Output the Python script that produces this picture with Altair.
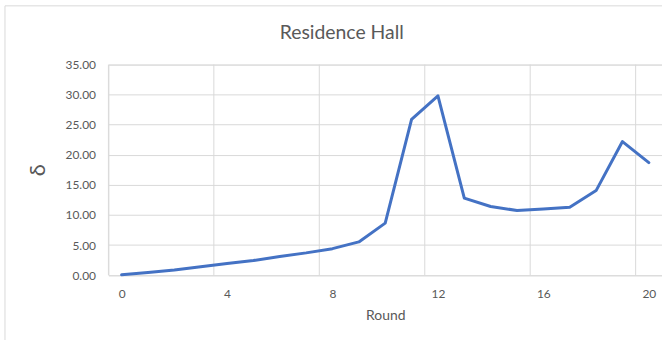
import altair as alt
import pandas as pd

# Round number and the δ value measured at each round
rounds = list(range(21))
delta = [0.05, 0.45, 0.85, 1.40, 1.93, 2.43, 3.10, 3.70, 4.40, 5.52, 8.65,
         25.9, 29.8, 12.8, 11.4, 10.75, 11.0, 11.3, 14.05, 22.2, 18.7]

# Labelled rounds on the x axis and the y axis tick values
x_ticks = [0, 4, 8, 12, 16, 20]
y_ticks = [0, 5, 10, 15, 20, 25, 30, 35]

df = pd.DataFrame({"Round": rounds, "delta": delta})
# vertical gridlines sit on the category boundaries left of each labelled round
grid_df = pd.DataFrame({"Round": [t - 0.5 for t in x_ticks]})

GRID = "#d9d9d9"
TEXT = "#595959"
FONT = "Lato"

x_scale = alt.Scale(domain=[-0.5, 20.5], nice=False, zero=False)
y_scale = alt.Scale(domain=[0, 35], nice=False)

x_axis = alt.Axis(
    values=x_ticks,
    grid=False,
    ticks=False,
    domain=False,
    labelPadding=13,
    labelFontSize=12,
    labelColor=TEXT,
    labelFont=FONT,
    titleFont=FONT,
    titleFontSize=14,
    titleFontWeight="normal",
    titleColor=TEXT,
    titleBaseline="top",
    titleY=34,
)

vgrid = alt.Chart(grid_df).mark_rule(color=GRID, strokeWidth=1).encode(
    x=alt.X("Round:Q", scale=x_scale, title="Round", axis=x_axis)
)

line = alt.Chart(df).mark_line(
    color="#4472C4", strokeWidth=3, strokeJoin="round", strokeCap="round"
).encode(
    x=alt.X("Round:Q", scale=x_scale, title="Round", axis=x_axis),
    y=alt.Y(
        "delta:Q",
        scale=y_scale,
        title="δ",
        axis=alt.Axis(
            values=y_ticks,
            format=".2f",
            grid=True,
            gridColor=GRID,
            gridWidth=1,
            ticks=False,
            domain=False,
            labelPadding=13,
            labelFontSize=12,
            labelColor=TEXT,
            labelFont=FONT,
            titleFont=FONT,
            titleFontSize=22,
            titleFontWeight="normal",
            titleColor=TEXT,
            titleAngle=270,
            titleAlign="center",
            titleBaseline="middle",
            titleX=-71,
            titleY=105.85,
        ),
    ),
)

# chart title, centred over the whole chart area rather than the plot
title = alt.Chart(df).mark_text(
    text="Residence Hall",
    font=FONT,
    fontSize=19.5,
    color=TEXT,
    align="center",
    baseline="alphabetic",
).encode(x=alt.value(234.6), y=alt.value(-25.7)).transform_filter("datum.Round == 0")

# light frame around the whole chart area
frame = alt.Chart(df).mark_rect(
    fill=None, stroke=GRID, strokeWidth=1, clip=False
).encode(
    x=alt.value(-104), x2=alt.value(700), y=alt.value(-59), y2=alt.value(400)
).transform_filter("datum.Round == 0")

chart = alt.layer(frame, vgrid, line, title).properties(
    width=556.5,
    height=211.7,
    autosize=alt.AutoSizeParams(type="none"),
    padding={"left": 109, "top": 64, "right": 0, "bottom": 64},
).configure_view(stroke=None).configure(background="white")

chart.save("out.html", embed_options={"renderer": "svg", "actions": False})
